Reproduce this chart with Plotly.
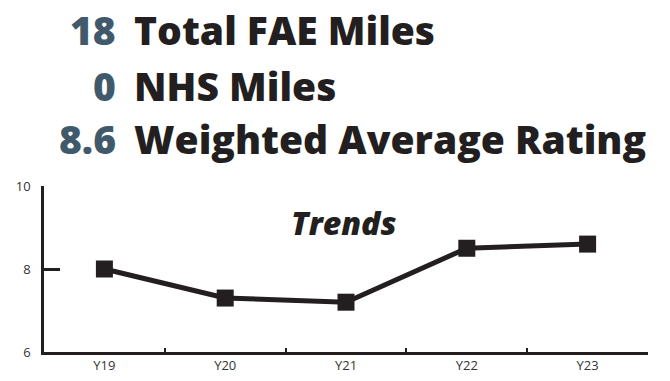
import plotly.graph_objects as go

years = ["Y19", "Y20", "Y21", "Y22", "Y23"]
ratings = [8.0, 7.3, 7.2, 8.5, 8.6]
header_values = ["18", "0", "8.6"]
header_labels = ["Total FAE Miles", "NHS Miles", "Weighted Average Rating"]
y_ticks = [6, 8, 10]

INK = "#231f20"
NUM = "#405a6b"
FONT = "Open Sans"

W, H = 670, 381
# plot area in page pixels
PL, PR, PT, PB = 44, 648, 186, 352
L, R, T, B = PL, W - PR, PT, H - PB

def px_x(px):
    return (px - PL) / (PR - PL)

def px_y(py):
    return (PB - py) / (PB - PT)

fig = go.Figure()
fig.add_trace(go.Scatter(
    x=years, y=ratings, mode="lines+markers",
    line=dict(color=INK, width=5),
    marker=dict(symbol="square", size=17, color=INK),
    showlegend=False, hoverinfo="skip",
))

annotations = []
centers = [29, 85.5, 138.5]
for v, lab, cy in zip(header_values, header_labels, centers):
    annotations.append(dict(
        x=px_x(118), y=px_y(cy), xref="paper", yref="paper",
        xanchor="right", yanchor="middle", showarrow=False,
        text=v, font=dict(family=FONT, size=39, color=NUM, weight=800),
    ))
    annotations.append(dict(
        x=px_x(132), y=px_y(cy), xref="paper", yref="paper",
        xanchor="left", yanchor="middle", showarrow=False,
        text=lab, font=dict(family=FONT, size=39, color=INK, weight=800),
    ))
annotations.append(dict(
    x=px_x(343), y=px_y(222), xref="paper", yref="paper",
    xanchor="center", yanchor="middle", showarrow=False,
    text="<i>Trends</i>", font=dict(family=FONT, size=32, color=INK, weight=800),
))

fig.update_layout(
    width=W, height=H,
    margin=dict(l=L, r=R, t=T, b=B, pad=0),
    paper_bgcolor="white", plot_bgcolor="white",
    annotations=annotations,
    xaxis=dict(
        type="category", range=[-0.5, 4.5], automargin=False,
        showgrid=False, zeroline=False,
        showline=True, linecolor=INK, linewidth=2.5,
        ticks="inside", tickson="boundaries", ticklen=4, tickwidth=2, tickcolor=INK,
        tickfont=dict(family=FONT, size=13, color="#333333"),
        fixedrange=True,
    ),
    yaxis=dict(
        range=[6, 10], tickvals=y_ticks, automargin=False,
        showgrid=False, zeroline=False,
        showline=True, linecolor=INK, linewidth=2.5,
        ticks="inside", ticklen=16, tickwidth=2.5, tickcolor=INK,
        tickfont=dict(family=FONT, size=13, color="#333333"),
        ticklabelstandoff=8,
        fixedrange=True,
    ),
)

fig.write_html(
    "out.html",
    config={"displayModeBar": False},
    post_script="document.body.style.margin='0';document.body.style.overflow='hidden';",
)
